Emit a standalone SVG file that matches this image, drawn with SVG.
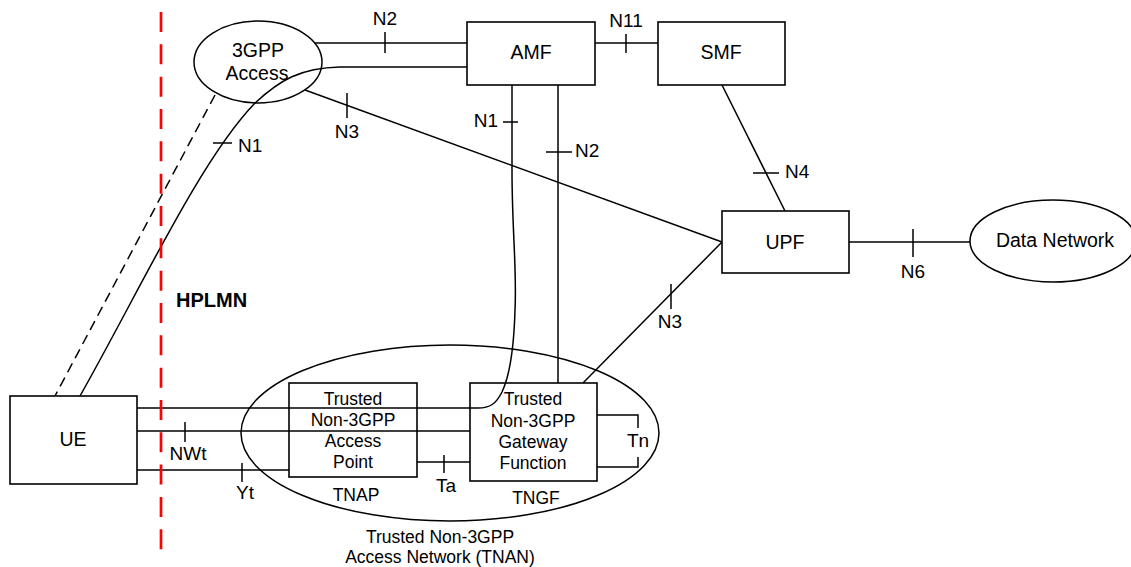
<svg xmlns="http://www.w3.org/2000/svg" width="1131" height="567" viewBox="0 0 1131 567">
<style>
text{font-family:"Liberation Sans",Arial,sans-serif;fill:#000}
.n{font-size:19.5px;text-anchor:middle}
.l{font-size:19px}
.c{text-anchor:middle}
.s{font-size:17.5px;text-anchor:middle}
.box{fill:#fff;stroke:#000;stroke-width:1.6}
.ln{fill:none;stroke:#000;stroke-width:1.5}
.dash{fill:none;stroke:#000;stroke-width:1.5;stroke-dasharray:10 6}
</style>
<rect width="1131" height="567" fill="#fff"/>
<g id="tnan">
<ellipse cx="450" cy="433" rx="209" ry="88" class="ln"/>
<text class="s" x="440" y="543">Trusted Non-3GPP</text>
<text class="s" x="440" y="563">Access Network (TNAN)</text>
</g>
<g id="connectors">
<line x1="315" y1="43" x2="467" y2="43" class="ln"/>
<line x1="385" y1="32" x2="385" y2="53" class="ln"/>
<line x1="595" y1="43" x2="658" y2="43" class="ln"/>
<line x1="626" y1="34" x2="626" y2="53" class="ln"/>
<path d="M80,396 C140,290 200,160 255,103 C280,80 300,68 340,67 L467,67" class="ln"/>
<line x1="213" y1="143" x2="232" y2="143" class="ln"/>
<line x1="215" y1="95" x2="55" y2="396" class="dash"/>
<line x1="305" y1="90" x2="722" y2="242" class="ln"/>
<line x1="347" y1="93" x2="347" y2="118" class="ln"/>
<path d="M512,85 L512,170 C512,230 517,270 515,310 C514,345 510,375 502,392 C496,404 490,408 478,408 L137,408" class="ln"/>
<line x1="503" y1="122" x2="518" y2="122" class="ln"/>
<line x1="558" y1="85" x2="558" y2="383" class="ln"/>
<line x1="546" y1="152" x2="572" y2="152" class="ln"/>
<line x1="722" y1="85" x2="785" y2="211" class="ln"/>
<line x1="753" y1="173" x2="779" y2="173" class="ln"/>
<line x1="722" y1="242" x2="583" y2="383" class="ln"/>
<line x1="671" y1="284" x2="671" y2="309" class="ln"/>
<line x1="849" y1="242" x2="970" y2="242" class="ln"/>
<line x1="913" y1="229" x2="913" y2="257" class="ln"/>
<line x1="137" y1="431" x2="470" y2="431" class="ln"/>
<line x1="185" y1="422" x2="185" y2="442" class="ln"/>
<line x1="137" y1="470" x2="289" y2="470" class="ln"/>
<line x1="242" y1="463" x2="242" y2="482" class="ln"/>
<line x1="417" y1="462" x2="470" y2="462" class="ln"/>
<line x1="444" y1="455" x2="444" y2="473" class="ln"/>
<polyline points="597,415 638,415 638,428" class="ln"/>
<polyline points="638,457 638,467 597,467" class="ln"/>
<text class="l c" x="385" y="25">N2</text>
<text class="l c" x="626" y="27">N11</text>
<text class="l" x="238" y="152">N1</text>
<text class="l c" x="347" y="138">N3</text>
<text class="l" x="498" y="127" text-anchor="end">N1</text>
<text class="l" x="575" y="157">N2</text>
<text class="l" x="785" y="178">N4</text>
<text class="l c" x="670" y="328">N3</text>
<text class="l c" x="913" y="278">N6</text>
<text class="l c" x="188" y="460">NWt</text>
<text class="l c" x="245" y="499">Yt</text>
<text class="l c" x="446" y="492">Ta</text>
<text class="l c" x="638" y="447">Tn</text>
</g>
<g id="hplmn">
<line x1="161" y1="12" x2="161" y2="550" stroke="#ff0000" stroke-width="2.7" stroke-dasharray="20 12.33"/>
<text x="176" y="307" style="font-size:20px;font-weight:bold">HPLMN</text>
</g>
<g id="access3gpp">
<ellipse cx="258" cy="62" rx="64" ry="41" fill="none" stroke="#000" stroke-width="1.5"/>
<text class="n" x="258" y="57">3GPP</text>
<text class="n" x="257" y="80">Access</text>
</g>
<g id="amf">
<rect x="467" y="22" width="128" height="63" class="box"/>
<text class="n" x="531" y="59">AMF</text>
</g>
<g id="smf">
<rect x="658" y="22" width="127" height="63" class="box"/>
<text class="n" x="721" y="59">SMF</text>
</g>
<g id="upf">
<rect x="722" y="211" width="127" height="62" class="box"/>
<text class="n" x="785" y="249">UPF</text>
</g>
<g id="dn">
<ellipse cx="1053" cy="241" rx="83" ry="41" fill="#fff" stroke="#000" stroke-width="1.5"/>
<text class="n" x="1055" y="247">Data Network</text>
</g>
<g id="ue">
<rect x="10" y="396" width="127" height="88" class="box"/>
<text class="n" x="73" y="446">UE</text>
</g>
<g id="tnap">
<rect x="289" y="383" width="128" height="94" fill="none" stroke="#000" stroke-width="1.6"/>
<text class="s" x="353" y="405">Trusted</text>
<text class="s" x="353" y="426">Non-3GPP</text>
<text class="s" x="353" y="447">Access</text>
<text class="s" x="353" y="468">Point</text>
<text class="s" x="356" y="501">TNAP</text>
</g>
<g id="tngf">
<rect x="470" y="383" width="127" height="98" fill="none" stroke="#000" stroke-width="1.6"/>
<text class="s" x="533" y="405">Trusted</text>
<text class="s" x="533" y="427">Non-3GPP</text>
<text class="s" x="533" y="448">Gateway</text>
<text class="s" x="533" y="469">Function</text>
<text class="s" x="536" y="504">TNGF</text>
</g>
</svg>
